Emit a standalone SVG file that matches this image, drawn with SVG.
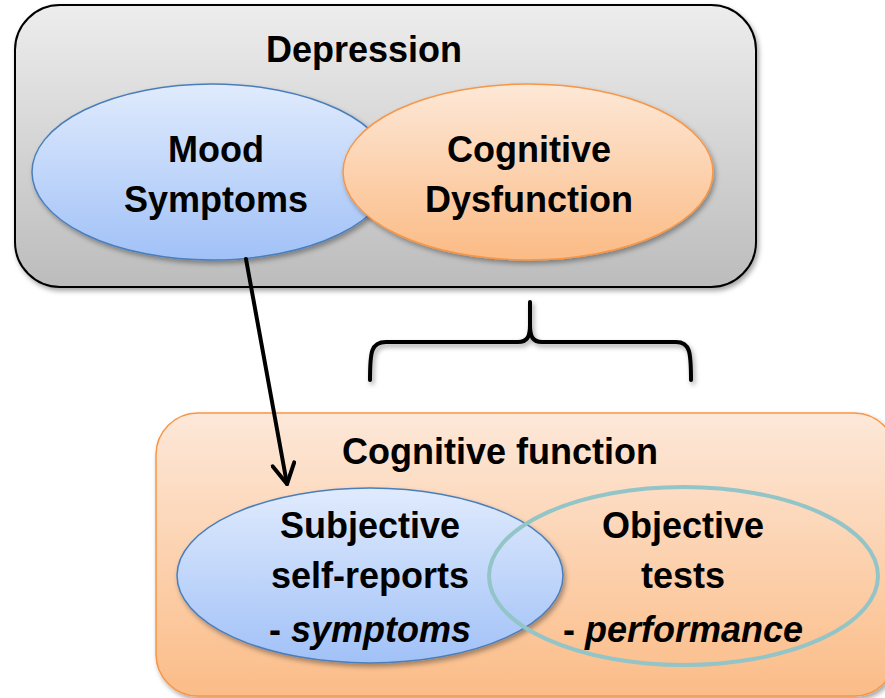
<svg xmlns="http://www.w3.org/2000/svg" width="885" height="698" viewBox="0 0 885 698">
<style>
  .t { font-family: "Liberation Sans", Arial, sans-serif; font-weight: bold; font-size: 36px; fill: #000; text-anchor: middle; }
  .it { font-style: italic; }
  .conn { fill: none; stroke: #000; stroke-width: 4; stroke-linecap: round; stroke-linejoin: round; }
</style>
<defs>
  <linearGradient id="gGray" x1="0" y1="0" x2="0" y2="1">
    <stop offset="0" stop-color="#ededed"/>
    <stop offset="1" stop-color="#bcbcbc"/>
  </linearGradient>
  <linearGradient id="gBlue" x1="0" y1="0" x2="0" y2="1">
    <stop offset="0" stop-color="#e0ebfd"/>
    <stop offset="1" stop-color="#a1c1f7"/>
  </linearGradient>
  <linearGradient id="gOrange" x1="0" y1="0" x2="0" y2="1">
    <stop offset="0" stop-color="#fde8d7"/>
    <stop offset="1" stop-color="#fbbb85"/>
  </linearGradient>
  <linearGradient id="gOrangeBox" x1="0" y1="0" x2="0" y2="1">
    <stop offset="0" stop-color="#fde8d9"/>
    <stop offset="1" stop-color="#fbbc87"/>
  </linearGradient>
  <filter id="sh" x="-10%" y="-10%" width="130%" height="130%">
    <feDropShadow dx="2" dy="3" stdDeviation="2.5" flood-color="#000" flood-opacity="0.35"/>
  </filter>
  <marker id="chev" viewBox="0 0 26 26" refX="23" refY="13" markerWidth="26" markerHeight="26" markerUnits="userSpaceOnUse" orient="auto">
    <path d="M3,2 L23,13 L3,24" fill="none" stroke="#000" stroke-width="4" stroke-linecap="round" stroke-linejoin="round"/>
  </marker>
</defs>

<g id="depression">
  <rect x="15" y="5" width="741" height="282" rx="45" ry="45" fill="url(#gGray)" stroke="#000" stroke-width="2" filter="url(#sh)"/>
  <text class="t" x="364" y="62">Depression</text>
</g>

<g id="mood-symptoms">
  <ellipse cx="212" cy="172" rx="180" ry="88" fill="url(#gBlue)" stroke="#4a7ebb" stroke-width="1.5" filter="url(#sh)"/>
  <text class="t" x="216" y="162">Mood</text>
  <text class="t" x="216" y="212">Symptoms</text>
</g>

<g id="cognitive-dysfunction">
  <ellipse cx="528" cy="172" rx="185" ry="88" fill="url(#gOrange)" stroke="#f79646" stroke-width="1.5" filter="url(#sh)"/>
  <text class="t" x="529" y="162">Cognitive</text>
  <text class="t" x="529" y="212">Dysfunction</text>
</g>

<g id="cognitive-function">
  <rect x="156" y="413" width="740" height="283" rx="42" ry="42" fill="url(#gOrangeBox)" stroke="#f79646" stroke-width="1.5" filter="url(#sh)"/>
  <text class="t" x="500" y="464">Cognitive function</text>
</g>

<g id="subjective">
  <ellipse cx="370" cy="575.5" rx="193" ry="87.5" fill="url(#gBlue)" stroke="#4a7ebb" stroke-width="1.5" filter="url(#sh)"/>
  <text class="t" x="370" y="538">Subjective</text>
  <text class="t" x="370" y="588">self-reports</text>
  <text class="t" x="370" y="642">- <tspan class="it">symptoms</tspan></text>
</g>

<g id="objective">
  <ellipse cx="683.5" cy="576" rx="194.5" ry="89" fill="none" stroke="#93c4c7" stroke-width="4"/>
  <text class="t" x="683" y="538">Objective</text>
  <text class="t" x="683" y="588">tests</text>
  <text class="t" x="683" y="642">- <tspan class="it">performance</tspan></text>
</g>

<g id="connectors">
  <path class="conn" d="M246,259 L287,484" marker-end="url(#chev)"/>
  <path class="conn" filter="url(#sh)" d="M370,380 C370,352 371,342 386,342 L518,342 C527,342 530,337 530,325 L530,302 M530,325 C530,337 533,342 542,342 L676,342 C690,342 691,352 691,380"/>
</g>
</svg>
